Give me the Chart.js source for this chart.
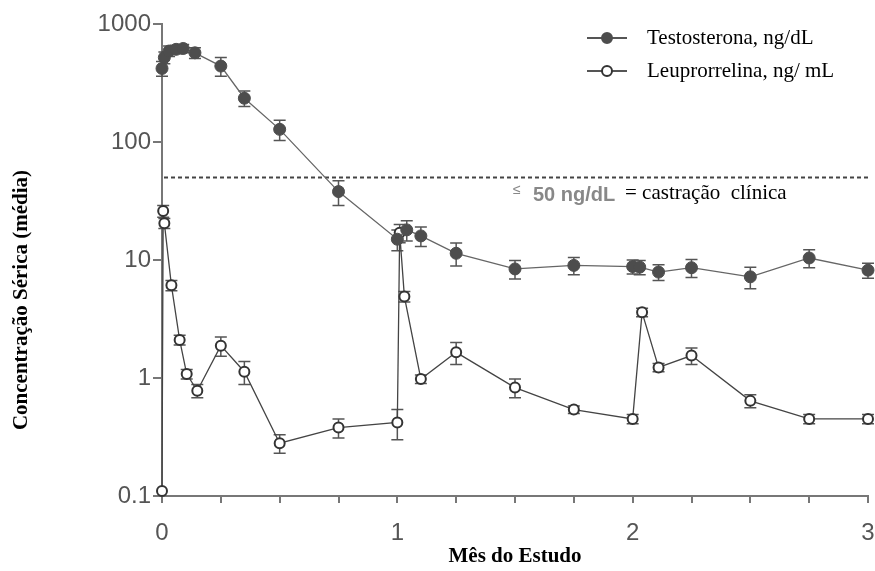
<!DOCTYPE html>
<html>
<head>
<meta charset="utf-8">
<script src="https://cdn.jsdelivr.net/npm/chart.js@4/dist/chart.umd.min.js"></script>
<style>
  html, body { margin: 0; padding: 0; background: #fff; }
  #wrap { width: 875px; height: 571px; position: relative; }
</style>
</head>
<body>
<div id="wrap"><canvas id="chart"></canvas></div>
<script>
// months since start, mean serum values, and standard errors
const testoMonths = [0, 0.01, 0.03, 0.06, 0.09, 0.14, 0.25, 0.35, 0.5, 0.75, 1.0, 1.04, 1.1, 1.25, 1.5, 1.75, 2.0, 2.03, 2.11, 2.25, 2.5, 2.75, 3.0];
const testoValues = [420, 520, 590, 610, 620, 570, 440, 235, 128, 38, 15, 18, 16, 11.4, 8.4, 9.0, 8.8, 8.7, 7.9, 8.6, 7.2, 10.4, 8.2];
const testoErrors = [60, 60, 60, 50, 50, 60, 80, 35, 25, 9, 3, 3.5, 3, 2.5, 1.5, 1.5, 1.2, 1.2, 1.2, 1.5, 1.5, 1.8, 1.2];

const leuproMonths = [0, 0.005, 0.01, 0.04, 0.075, 0.105, 0.15, 0.25, 0.35, 0.5, 0.75, 1.0, 1.01, 1.03, 1.1, 1.25, 1.5, 1.75, 2.0, 2.04, 2.11, 2.25, 2.5, 2.75, 3.0];
const leuproValues = [0.11, 26, 20.5, 6.1, 2.1, 1.08, 0.78, 1.88, 1.13, 0.28, 0.38, 0.42, 17, 4.9, 0.98, 1.65, 0.83, 0.54, 0.45, 3.6, 1.23, 1.55, 0.64, 0.45, 0.45];
const leuproErrors = [0, 3, 2, 0.6, 0.2, 0.1, 0.1, 0.35, 0.25, 0.05, 0.07, 0.12, 3, 0.5, 0.08, 0.35, 0.15, 0.04, 0.04, 0.3, 0.1, 0.25, 0.08, 0.04, 0.04];

const yTickValues = [0.1, 1, 10, 100, 1000];
const xTickLabels = ['0', '1', '2', '3'];
const castrationLevel = 50;

const seriesNames = ['Testosterona, ng/dL', 'Leuprorrelina, ng/ mL'];

const toPoints = (xs, ys) => xs.map((x, i) => ({ x: x, y: ys[i] }));

const errorBars = {
  id: 'errorBars',
  beforeDatasetsDraw(chart) {
    const { ctx, scales: { x, y } } = chart;
    const sets = [[testoMonths, testoValues, testoErrors], [leuproMonths, leuproValues, leuproErrors]];
    ctx.save();
    ctx.strokeStyle = '#555';
    ctx.lineWidth = 1.5;
    sets.forEach(([xs, vs, es]) => {
      xs.forEach((m, i) => {
        if (!es[i]) return;
        const px = x.getPixelForValue(m);
        const top = y.getPixelForValue(vs[i] + es[i]);
        const bot = y.getPixelForValue(Math.max(vs[i] - es[i], 0.1));
        ctx.beginPath();
        ctx.moveTo(px, top); ctx.lineTo(px, bot);
        ctx.moveTo(px - 6, top); ctx.lineTo(px + 6, top);
        ctx.moveTo(px - 6, bot); ctx.lineTo(px + 6, bot);
        ctx.stroke();
      });
    });
    ctx.restore();
  }
};

const extras = {
  id: 'extras',
  beforeDatasetsDraw(chart) {
    const { ctx, chartArea, scales: { y } } = chart;
    const py = y.getPixelForValue(castrationLevel);
    ctx.save();
    ctx.strokeStyle = '#444';
    ctx.lineWidth = 2;
    ctx.setLineDash([4, 3]);
    ctx.beginPath();
    ctx.moveTo(chartArea.left + 2, py);
    ctx.lineTo(chartArea.right, py);
    ctx.stroke();
    ctx.restore();
  },
  afterDraw(chart) {
    const { ctx, chartArea, scales: { y } } = chart;
    const py = y.getPixelForValue(castrationLevel);
    ctx.save();
    ctx.textBaseline = 'middle';
    // threshold note
    ctx.fillStyle = '#888';
    ctx.font = '14px "Liberation Sans"';
    ctx.fillText('\u2264', 513, py + 13);
    ctx.font = 'bold 20px "Liberation Sans"';
    ctx.fillText('50 ng/dL', 533, py + 18);
    ctx.fillStyle = '#000';
    ctx.font = '21px "Liberation Serif"';
    ctx.fillText('= castração  clínica', 625, py + 16);

    // legend
    chart.data.datasets.forEach((ds, i) => {
      const ly = 38 + i * 33;
      ctx.strokeStyle = '#555';
      ctx.lineWidth = 2;
      ctx.beginPath();
      ctx.moveTo(587, ly); ctx.lineTo(627, ly);
      ctx.stroke();
      ctx.beginPath();
      ctx.arc(607, ly, 5, 0, Math.PI * 2);
      ctx.fillStyle = ds.pointBackgroundColor;
      ctx.fill();
      ctx.strokeStyle = ds.pointBorderColor;
      ctx.stroke();
      ctx.fillStyle = '#000';
      ctx.font = '21px "Liberation Serif"';
      ctx.fillText(seriesNames[i], 647, ly);
    });

    // axis titles
    ctx.font = 'bold 21px "Liberation Serif"';
    ctx.textAlign = 'center';
    ctx.fillText('Mês do Estudo', (chartArea.left + chartArea.right) / 2, 557);
    ctx.translate(22, 300);
    ctx.rotate(-Math.PI / 2);
    ctx.fillText('Concentração Sérica (média)', 0, 0);
    ctx.restore();
  }
};

new Chart(document.getElementById('chart'), {
  type: 'line',
  data: {
    datasets: [
      {
        label: seriesNames[0],
        data: toPoints(testoMonths, testoValues),
        borderColor: '#666',
        borderWidth: 1.3,
        pointRadius: 6,
        pointBackgroundColor: '#4d4d4d',
        pointBorderColor: '#4d4d4d',
        pointBorderWidth: 1,
        tension: 0,
        clip: false
      },
      {
        label: seriesNames[1],
        data: toPoints(leuproMonths, leuproValues),
        borderColor: '#444',
        borderWidth: 1.3,
        pointRadius: 5,
        pointBackgroundColor: '#fff',
        pointBorderColor: '#333',
        pointBorderWidth: 2,
        tension: 0,
        clip: false
      }
    ]
  },
  options: {
    responsive: true,
    maintainAspectRatio: false,
    animation: false,
    layout: { padding: { top: 24, right: 7, left: 0, bottom: 0 } },
    plugins: { legend: { display: false }, tooltip: { enabled: false } },
    scales: {
      x: {
        type: 'linear',
        min: 0,
        max: 3,
        afterFit: s => { s.height = 75; s.paddingRight = 0; s.paddingLeft = 0; },
        ticks: {
          stepSize: 0.25,
          autoSkip: false,
          maxRotation: 0,
          padding: 16,
          color: '#555',
          font: { family: 'Liberation Sans', size: 24 },
          callback: v => Number.isInteger(v) ? xTickLabels[v] : ''
        },
        grid: { drawOnChartArea: false, tickLength: 7, color: '#777', lineWidth: 2 },
        border: { color: '#777', width: 2 }
      },
      y: {
        type: 'logarithmic',
        min: 0.1,
        max: 1000,
        afterFit: s => { s.width = 162; s.paddingTop = 0; s.paddingBottom = 0; },
        afterBuildTicks: s => { s.ticks = yTickValues.map(v => ({ value: v })); },
        ticks: {
          padding: 2,
          color: '#555',
          font: { family: 'Liberation Sans', size: 24 },
          callback: v => String(v)
        },
        grid: { drawOnChartArea: false, tickLength: 9, color: '#777', lineWidth: 2 },
        border: { color: '#777', width: 2 }
      }
    }
  },
  plugins: [errorBars, extras]
});
</script>
</body>
</html>
